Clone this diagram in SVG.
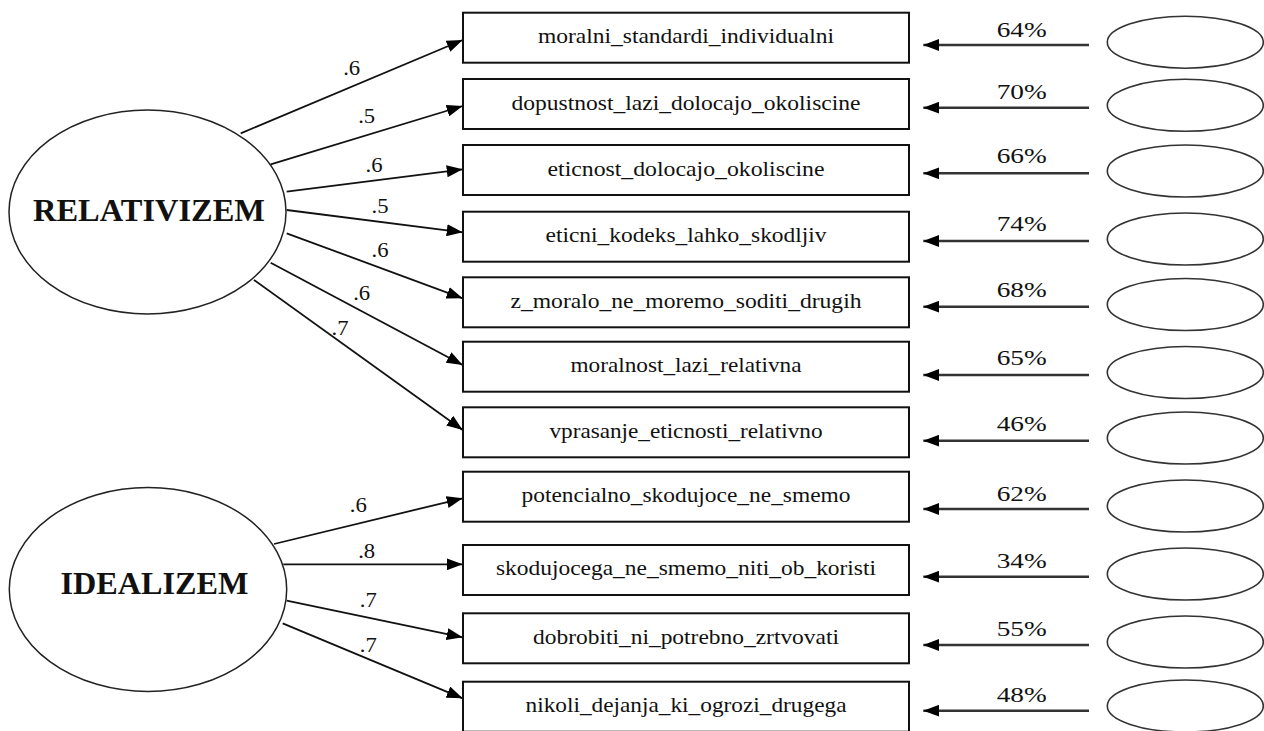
<svg xmlns="http://www.w3.org/2000/svg" width="1264" height="731" viewBox="0 0 1264 731">
<style>
.bg{fill:#fff}
.lat{fill:#fff;stroke:#222;stroke-width:1.5}
.err{fill:#fff;stroke:#333;stroke-width:1.6}
.box{fill:#fff;stroke:#111;stroke-width:2}
.lt{font-family:"Liberation Serif","Times New Roman",serif;font-size:32px;font-weight:bold;fill:#111;text-anchor:middle}
.bt{font-family:"Liberation Serif","Times New Roman",serif;font-size:21px;fill:#111;text-anchor:middle}
.pt{font-family:"Liberation Serif","Times New Roman",serif;font-size:21px;fill:#111;text-anchor:middle}
.ct{font-family:"Liberation Serif","Times New Roman",serif;font-size:20px;fill:#111;text-anchor:middle}
.ld{stroke:#111;stroke-width:1.8;fill:none;marker-end:url(#ah)}
.er{stroke:#333;stroke-width:2.4;fill:none;marker-end:url(#ah)}
</style>
<defs>
<marker id="ah" markerUnits="userSpaceOnUse" markerWidth="16" markerHeight="12" refX="16" refY="6" orient="auto">
<path d="M0,0 L16,6 L0,12 z" fill="#000"/>
</marker>
</defs>
<rect class="bg" x="0" y="0" width="1264" height="731"/>

<g id="connectors">
<line class="ld" x1="240.7" y1="133.3" x2="462.7" y2="40"/>
<line class="ld" x1="270.7" y1="164.3" x2="462.7" y2="106"/>
<line class="ld" x1="286.7" y1="191.7" x2="462.7" y2="169.3"/>
<line class="ld" x1="286.7" y1="210" x2="462.7" y2="232.3"/>
<line class="ld" x1="286.7" y1="233.3" x2="462.7" y2="298.3"/>
<line class="ld" x1="270.7" y1="262.7" x2="462.7" y2="365"/>
<line class="ld" x1="254" y1="280" x2="462.7" y2="430"/>
<line class="ld" x1="274" y1="544" x2="462.7" y2="498.3"/>
<line class="ld" x1="283.3" y1="564.3" x2="462.7" y2="564.3"/>
<line class="ld" x1="286.7" y1="600.7" x2="462.7" y2="637.3"/>
<line class="ld" x1="282.7" y1="623.3" x2="462.7" y2="698.3"/>
<text class="ct" x="351.7" y="75" textLength="17" lengthAdjust="spacingAndGlyphs">.6</text>
<text class="ct" x="366.7" y="123.3" textLength="17" lengthAdjust="spacingAndGlyphs">.5</text>
<text class="ct" x="374" y="171.7" textLength="17" lengthAdjust="spacingAndGlyphs">.6</text>
<text class="ct" x="380" y="213.3" textLength="17" lengthAdjust="spacingAndGlyphs">.5</text>
<text class="ct" x="380" y="257.3" textLength="17" lengthAdjust="spacingAndGlyphs">.6</text>
<text class="ct" x="361.7" y="300" textLength="17" lengthAdjust="spacingAndGlyphs">.6</text>
<text class="ct" x="340" y="335" textLength="17" lengthAdjust="spacingAndGlyphs">.7</text>
<text class="ct" x="358.3" y="511.7" textLength="17" lengthAdjust="spacingAndGlyphs">.6</text>
<text class="ct" x="366.7" y="558.3" textLength="17" lengthAdjust="spacingAndGlyphs">.8</text>
<text class="ct" x="368.3" y="607.3" textLength="17" lengthAdjust="spacingAndGlyphs">.7</text>
<text class="ct" x="368.3" y="651.7" textLength="17" lengthAdjust="spacingAndGlyphs">.7</text>

<line class="er" x1="1089" y1="45" x2="923.3" y2="45"/>
<line class="er" x1="1089" y1="107.7" x2="923.3" y2="107.7"/>
<line class="er" x1="1089" y1="173.3" x2="923.3" y2="173.3"/>
<line class="er" x1="1089" y1="241" x2="923.3" y2="241"/>
<line class="er" x1="1089" y1="306.7" x2="923.3" y2="306.7"/>
<line class="er" x1="1089" y1="375" x2="923.3" y2="375"/>
<line class="er" x1="1089" y1="440.7" x2="923.3" y2="440.7"/>
<line class="er" x1="1089" y1="509" x2="923.3" y2="509"/>
<line class="er" x1="1089" y1="576.7" x2="923.3" y2="576.7"/>
<line class="er" x1="1089" y1="645" x2="923.3" y2="645"/>
<line class="er" x1="1089" y1="710.7" x2="923.3" y2="710.7"/>
<text class="pt" x="1021.7" y="37.3" textLength="50" lengthAdjust="spacingAndGlyphs">64%</text>
<text class="pt" x="1021.7" y="99.3" textLength="50" lengthAdjust="spacingAndGlyphs">70%</text>
<text class="pt" x="1021.7" y="163.3" textLength="50" lengthAdjust="spacingAndGlyphs">66%</text>
<text class="pt" x="1021.7" y="231" textLength="50" lengthAdjust="spacingAndGlyphs">74%</text>
<text class="pt" x="1021.7" y="296.7" textLength="50" lengthAdjust="spacingAndGlyphs">68%</text>
<text class="pt" x="1021.7" y="365" textLength="50" lengthAdjust="spacingAndGlyphs">65%</text>
<text class="pt" x="1021.7" y="431" textLength="50" lengthAdjust="spacingAndGlyphs">46%</text>
<text class="pt" x="1021.7" y="500.7" textLength="50" lengthAdjust="spacingAndGlyphs">62%</text>
<text class="pt" x="1021.7" y="568.3" textLength="50" lengthAdjust="spacingAndGlyphs">34%</text>
<text class="pt" x="1021.7" y="636" textLength="50" lengthAdjust="spacingAndGlyphs">55%</text>
<text class="pt" x="1021.7" y="701.7" textLength="50" lengthAdjust="spacingAndGlyphs">48%</text>
</g>

<g id="relativizem">
<ellipse class="lat" cx="147.5" cy="212" rx="138.5" ry="102"/>
<text class="lt" x="149" y="220.5" textLength="232" lengthAdjust="spacingAndGlyphs">RELATIVIZEM</text>
</g>
<g id="idealizem">
<ellipse class="lat" cx="148" cy="589.5" rx="138.7" ry="102"/>
<text class="lt" x="154.5" y="594" textLength="188" lengthAdjust="spacingAndGlyphs">IDEALIZEM</text>
</g>

<g id="v1"><rect class="box" x="463" y="12.7" width="446" height="50"/><text class="bt" x="686" y="43.2" textLength="296" lengthAdjust="spacingAndGlyphs">moralni_standardi_individualni</text></g>
<g id="v2"><rect class="box" x="463" y="79" width="446" height="50"/><text class="bt" x="686" y="109.5" textLength="349" lengthAdjust="spacingAndGlyphs">dopustnost_lazi_dolocajo_okoliscine</text></g>
<g id="v3"><rect class="box" x="463" y="145" width="446" height="50"/><text class="bt" x="686" y="175.5" textLength="277" lengthAdjust="spacingAndGlyphs">eticnost_dolocajo_okoliscine</text></g>
<g id="v4"><rect class="box" x="463" y="211.7" width="446" height="50"/><text class="bt" x="686" y="242.2" textLength="281" lengthAdjust="spacingAndGlyphs">eticni_kodeks_lahko_skodljiv</text></g>
<g id="v5"><rect class="box" x="463" y="277.3" width="446" height="50"/><text class="bt" x="686" y="307.8" textLength="351" lengthAdjust="spacingAndGlyphs">z_moralo_ne_moremo_soditi_drugih</text></g>
<g id="v6"><rect class="box" x="463" y="341.7" width="446" height="50"/><text class="bt" x="686" y="372.2" textLength="231" lengthAdjust="spacingAndGlyphs">moralnost_lazi_relativna</text></g>
<g id="v7"><rect class="box" x="463" y="407.3" width="446" height="50"/><text class="bt" x="686" y="437.8" textLength="273" lengthAdjust="spacingAndGlyphs">vprasanje_eticnosti_relativno</text></g>
<g id="v8"><rect class="box" x="463" y="471.7" width="446" height="50"/><text class="bt" x="686" y="502.2" textLength="329" lengthAdjust="spacingAndGlyphs">potencialno_skodujoce_ne_smemo</text></g>
<g id="v9"><rect class="box" x="463" y="545" width="446" height="50"/><text class="bt" x="686" y="574.5" textLength="380" lengthAdjust="spacingAndGlyphs">skodujocega_ne_smemo_niti_ob_koristi</text></g>
<g id="v10"><rect class="box" x="463" y="613.3" width="446" height="50"/><text class="bt" x="686" y="643.8" textLength="306" lengthAdjust="spacingAndGlyphs">dobrobiti_ni_potrebno_zrtvovati</text></g>
<g id="v11"><rect class="box" x="463" y="681.7" width="446" height="50"/><text class="bt" x="686" y="712.2" textLength="321" lengthAdjust="spacingAndGlyphs">nikoli_dejanja_ki_ogrozi_drugega</text></g>

<g id="e1"><ellipse class="err" cx="1185.3" cy="42.2" rx="78" ry="26"/></g>
<g id="e2"><ellipse class="err" cx="1185.3" cy="105.3" rx="78" ry="26"/></g>
<g id="e3"><ellipse class="err" cx="1185.3" cy="171" rx="78" ry="26"/></g>
<g id="e4"><ellipse class="err" cx="1185.3" cy="239" rx="78" ry="26"/></g>
<g id="e5"><ellipse class="err" cx="1185.3" cy="304.5" rx="78" ry="26"/></g>
<g id="e6"><ellipse class="err" cx="1185.3" cy="372.5" rx="78" ry="26"/></g>
<g id="e7"><ellipse class="err" cx="1185.3" cy="438" rx="78" ry="26"/></g>
<g id="e8"><ellipse class="err" cx="1185.3" cy="506" rx="78" ry="26"/></g>
<g id="e9"><ellipse class="err" cx="1185.3" cy="574" rx="78" ry="26"/></g>
<g id="e10"><ellipse class="err" cx="1185.3" cy="642" rx="78" ry="26"/></g>
<g id="e11"><ellipse class="err" cx="1185.3" cy="706" rx="78" ry="26"/></g>
</svg>
